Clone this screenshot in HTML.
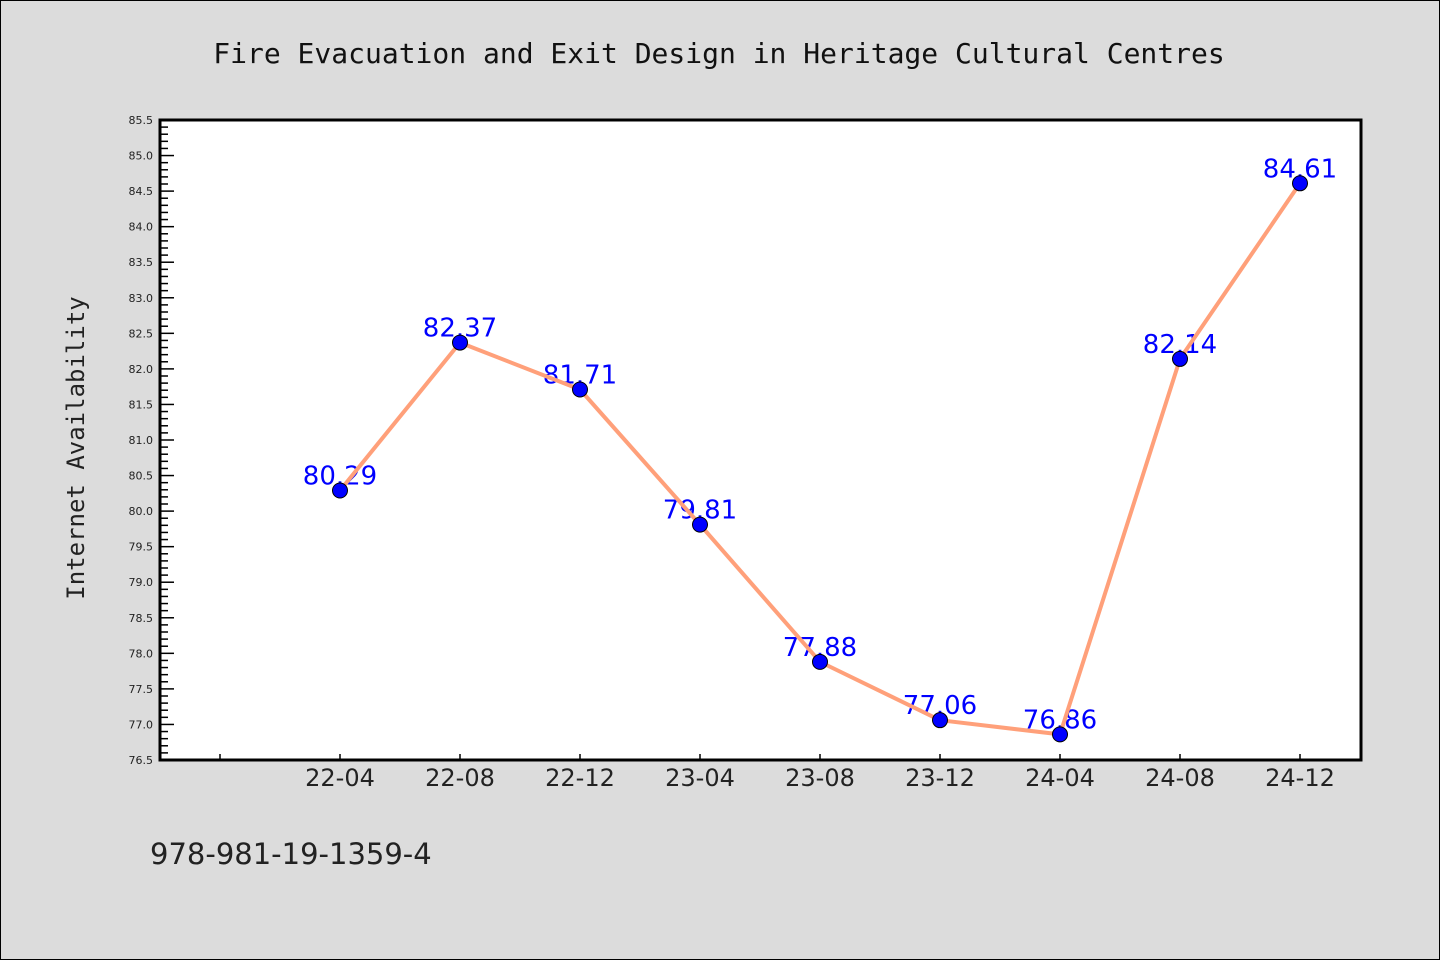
<!DOCTYPE html>
<html><head><meta charset="utf-8"><style>
html,body{margin:0;padding:0;background:#dcdcdc;}
svg{display:block;}
</style></head><body>
<svg id="chart" width="1440" height="960" xmlns="http://www.w3.org/2000/svg">
<rect x="0.5" y="0.5" width="1439" height="959" fill="#dcdcdc" stroke="#000" stroke-width="1"/>
<text x="719" y="63" text-anchor="middle" font-family="DejaVu Sans Mono, Liberation Mono, monospace" font-size="28" fill="#111">Fire Evacuation and Exit Design in Heritage Cultural Centres</text>
<rect x="160" y="120" width="1201" height="640" fill="#fff"/>
<g id="yaxis"></g>
<g id="xaxis"></g>
<g id="labels"></g>
<g id="series"></g>
<rect x="160" y="120" width="1201" height="640" fill="none" stroke="#000" stroke-width="3"/>
<text transform="translate(84,448) rotate(-90)" text-anchor="middle" font-family="DejaVu Sans Mono, Liberation Mono, monospace" font-size="24" fill="#222">Internet Availability</text>
<text x="150" y="864" font-family="DejaVu Sans, Liberation Sans, sans-serif" font-size="29" fill="#222">978-981-19-1359-4</text>
</svg>
<script>
const categories = ["22-04","22-08","22-12","23-04","23-08","23-12","24-04","24-08","24-12"];
const values = [80.29,82.37,81.71,79.81,77.88,77.06,76.86,82.14,84.61];
const yMin = 76.5, yMax = 85.5;
const NS = "http://www.w3.org/2000/svg";
const L=160,R=1361,T=120,B=760;
function y(v){return B-(v-yMin)/(yMax-yMin)*(B-T);}
function x(i){return 340+i*120;}
function mk(tag,attrs,parent){const e=document.createElementNS(NS,tag);for(const k in attrs)e.setAttribute(k,attrs[k]);parent.appendChild(e);return e;}
const ya=document.getElementById('yaxis'),xa=document.getElementById('xaxis'),lg=document.getElementById('labels'),sg=document.getElementById('series');
for(let k=0;k<=90;k++){
  const v=yMin+k*0.1, yy=y(v), major=k%5===0;
  const t=mk('line',{x1:L,x2:L+(major?14:8),y1:yy,y2:yy,stroke:'#000','stroke-width':1.5},ya);
  
  
  if(major){
    const tx=mk('text',{x:153,y:yy+4,'text-anchor':'end','font-family':'DejaVu Sans, Liberation Sans, sans-serif','font-size':11,fill:'#222'},ya);
    tx.textContent=v.toFixed(1);
    
    
  }
}
for(let i=-1;i<categories.length;i++){
  const xx=x(i);
  const t=mk('line',{x1:xx,x2:xx,y1:B,y2:B-6,stroke:'#000','stroke-width':1.5},xa);
  
  
  if(i>=0){
    const tx=mk('text',{x:xx,y:786,'text-anchor':'middle','font-family':'DejaVu Sans, Liberation Sans, sans-serif','font-size':24,fill:'#222'},xa);
    tx.textContent=categories[i];
    
    
  }
}
values.forEach((v,i)=>{
  const tx=mk('text',{x:x(i),y:y(v)-6,'text-anchor':'middle','font-family':'DejaVu Sans, Liberation Sans, sans-serif','font-size':26,fill:'#0000ff'},lg);
  tx.textContent=v.toFixed(2);
  
  
});
const pts=values.map((v,i)=>x(i)+','+y(v)).join(' ');
const pl=mk('polyline',{points:pts,fill:'none',stroke:'#ffa07a','stroke-width':4,'stroke-linejoin':'round'},sg);


values.forEach((v,i)=>{
  const c=mk('circle',{cx:x(i),cy:y(v),r:7.5,fill:'#0000ff',stroke:'#000','stroke-width':1},sg);
  
  
});
</script>
</body></html>
